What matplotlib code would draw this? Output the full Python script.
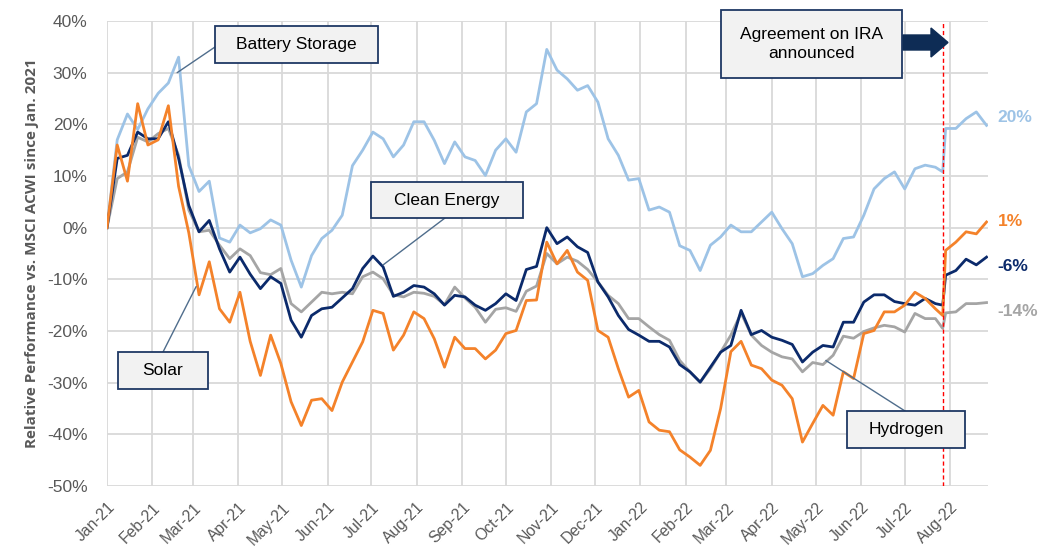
import matplotlib
matplotlib.use("Agg")
import matplotlib.pyplot as plt
import matplotlib.dates as mdates
import matplotlib.patches as mpatches
import matplotlib.transforms as mtransforms
from matplotlib.ticker import FuncFormatter
import pandas as pd

# weekly readings (Fridays) + one extra point on the day the IRA deal was announced
weeks = pd.date_range("2021-01-01", "2022-08-26", freq="7D")
dates = weeks.insert(82, pd.Timestamp("2022-07-27"))
ira_day = pd.Timestamp("2022-07-27")

battery = [0, 17, 22, 19, 23, 26, 28, 33, 12, 7, 9, -2, -2.8, 0.5, -1, -0.2, 1.5, 0.5,
           -6.3, -11.5, -5.4, -2.1, -0.5, 2.4, 12, 15, 18.5, 17.2, 13.7, 16, 20.5, 20.5,
           16.9, 12.4, 16.6, 13.7, 13, 10.1, 15, 17.2, 14.6, 22.4, 24, 34.5, 30.5, 28.8,
           26.6, 27.5, 24.3, 17.2, 14, 9.2, 9.5, 3.4, 4, 3, -3.5, -4.4, -8.3, -3.4, -1.8,
           0.5, -0.8, -0.8, 1.1, 3, -0.2, -3.1, -9.5, -8.9, -7.3, -6, -2.1, -1.8, 2.4, 7.5,
           9.5, 10.8, 7.5, 11.4, 12.1, 11.7, 10.8, 19.2, 19.2, 21.1, 22.4, 19.8]

solar = [0, 16, 9, 24, 16, 17, 23.6, 8, -1, -13, -6.6, -15.7, -18.3, -12.5, -22, -28.6,
         -20.8, -26.3, -33.7, -38.3, -33.4, -33.1, -35.4, -29.9, -26, -22.1, -16, -16.6,
         -23.7, -20.8, -16.3, -17.6, -21.5, -27, -21.2, -23.4, -23.4, -25.4, -23.7, -20.5,
         -19.9, -14.1, -14, -2.8, -7, -4.4, -8.6, -10.2, -19.9, -21.2, -27.3, -32.8, -31.5,
         -37.6, -39.2, -39.5, -43, -44.4, -46, -43.1, -35, -24, -22, -26.6, -27.3, -29.5,
         -30.5, -33.1, -41.5, -37.9, -34.4, -36.3, -27.9, -29.2, -20.5, -19.9, -16.3, -16.3,
         -15, -12.5, -13.7, -15.7, -17, -4.4, -2.8, -0.8, -1.2, 1.1]

clean = [0, 13.4, 14, 18.5, 17.2, 17.2, 20.5, 13.4, 4.3, -0.8, 1.4, -4.1, -8.6, -5.7, -9,
         -11.8, -9.5, -10.8, -17.9, -21.2, -17, -15.7, -15.4, -13.6, -11.8, -7.9, -5.5, -7.6,
         -13.3, -12.5, -11.2, -11.5, -12.8, -15, -13.1, -13.4, -15, -16, -14.7, -12.8, -14.1,
         -8.1, -7.5, 0, -3.1, -1.8, -3.7, -4.8, -10.5, -13.4, -17, -19.7, -20.8, -22, -22,
         -23.1, -26.5, -27.9, -29.9, -27, -24.1, -22.8, -16, -20.7, -19.9, -21.2, -21.8,
         -22.6, -26, -24.1, -22.8, -23.1, -18.3, -18.3, -14.4, -13, -13, -14.3, -14.7, -15,
         -13.7, -14.7, -15, -9.2, -8.3, -6.1, -7.2, -5.7]

hydrogen = [0, 9.5, 10.8, 17.5, 16.6, 18.2, 19.2, 14, 3.4, -0.8, -0.5, -3.4, -6, -4.1,
            -5.4, -8.7, -9.1, -7.9, -14.7, -16.3, -14.4, -12.5, -12.8, -12.5, -12.8, -9.5,
            -8.6, -9.9, -13, -13.4, -12.5, -12.7, -13.3, -14.9, -11.5, -13.6, -15.4, -18.3,
            -15.8, -15.5, -16.2, -12.3, -11.3, -5, -7, -5.7, -6.5, -8.1, -10.5, -13.1, -14.7,
            -17.6, -17.6, -19.2, -20.7, -21.8, -25.7, -27.9, -29.9, -27.3, -24.1, -20.8,
            -16.5, -20.8, -22.8, -24.1, -25, -25.4, -27.9, -26.1, -26.5, -24.7, -21, -21.4,
            -20.1, -19.4, -18.9, -19.2, -20.2, -16.6, -17.6, -17.6, -19.5, -16.5, -16.3,
            -14.7, -14.7, -14.5]

# end labels: text, y position, colour
end_labels = [("20%", 21.3, "#9DC3E6"), ("1%", 1.2, "#F4822A"),
              ("-6%", -7.5, "#0B2A6B"), ("-14%", -16.2, "#A5A5A5")]

plt.rcParams["font.family"] = ["Liberation Sans", "DejaVu Sans"]
fig = plt.figure(figsize=(10.5, 5.5), dpi=100)
ax = fig.add_axes([107 / 1050, 1 - 486 / 550, 881 / 1050, 465 / 550])

ax.plot(dates, battery, color="#9DC3E6", lw=2.0, zorder=2)
ax.plot(dates, hydrogen, color="#A5A5A5", lw=2.0, zorder=3)
ax.plot(dates, clean, color="#0B2A6B", lw=2.0, zorder=3)
ax.plot(dates, solar, color="#F4822A", lw=2.0, zorder=3)
ax.axvline(ira_day, color="red", lw=1, ls=(0, (3, 2)), zorder=4)

for txt, y, c in end_labels:
    ax.annotate(txt, xy=(dates[-1], y), xytext=(8, 0), textcoords="offset points",
                va="center", ha="left", fontsize=12.5, fontweight="bold", color=c,
                annotation_clip=False)

ax.set_xlim(pd.Timestamp("2021-01-01"), pd.Timestamp("2022-08-27"))
ax.set_ylim(-50, 40)
ax.set_yticks(range(-50, 41, 10))
ax.yaxis.set_major_formatter(FuncFormatter(lambda v, p: f"{v:.0f}%"))
ax.xaxis.set_major_locator(mdates.MonthLocator())
ax.xaxis.set_major_formatter(mdates.DateFormatter("%b-%y"))
ax.grid(True, color="#D9D9D9", lw=1.3)
ax.set_axisbelow(True)
for s in ax.spines.values():
    s.set_visible(False)
ax.tick_params(axis="y", length=0, pad=14, labelsize=12.5, labelcolor="#595959")
ax.tick_params(axis="x", length=0, pad=10, labelsize=11.3, labelcolor="#595959")
plt.setp(ax.get_xticklabels(), rotation=45, ha="right", rotation_mode="anchor")

ax.set_ylabel("Relative Performance vs. MSCI ACWI since Jan. 2021", fontsize=11,
              fontweight="bold", color="#595959", family=["Open Sans", "DejaVu Sans"])
ax.yaxis.set_label_coords(-68 / 881, 0.5)

# callout boxes, placed in image pixels (origin top left)
pix = mtransforms.Affine2D().scale(1 / 1050, -1 / 550).translate(0, 1) + fig.transFigure


def callout(x0, y0, x1, y1, text):
    fig.add_artist(mpatches.Rectangle((x0, y0), x1 - x0, y1 - y0, transform=pix,
                                      facecolor="#F2F2F2", edgecolor="#1F3864",
                                      lw=1.3, zorder=5))
    fig.text((x0 + x1) / 2, (y0 + y1) / 2, text, transform=pix, ha="center",
             va="center", fontsize=12.5, color="black", zorder=6, linespacing=1.25)


def connector(px, py, when, val):
    ax.annotate("", xy=(pd.Timestamp(when), val), xycoords="data", xytext=(px, py),
                textcoords=pix, annotation_clip=False,
                arrowprops=dict(arrowstyle="-", color="#4F6D8C", lw=1,
                                shrinkA=0, shrinkB=0))


connector(215, 47, "2021-02-18", 30)
connector(163, 352, "2021-03-03", -11.4)
connector(445, 218, "2021-07-09", -7.2)
connector(905, 411, "2022-05-08", -25.7)

callout(215, 26, 378, 63, "Battery Storage")
callout(118, 352, 208, 389, "Solar")
callout(371, 182, 523, 218, "Clean Energy")
callout(847, 411, 965, 448, "Hydrogen")
callout(721, 10, 902, 78, "Agreement on IRA\nannounced")

fig.add_artist(mpatches.FancyArrow(903, 42.5, 45, 0, width=15, head_width=29,
                                   head_length=17, length_includes_head=True,
                                   transform=pix, color="#0E2C55", zorder=6))

fig.savefig("out.png", dpi=100, facecolor="white")
